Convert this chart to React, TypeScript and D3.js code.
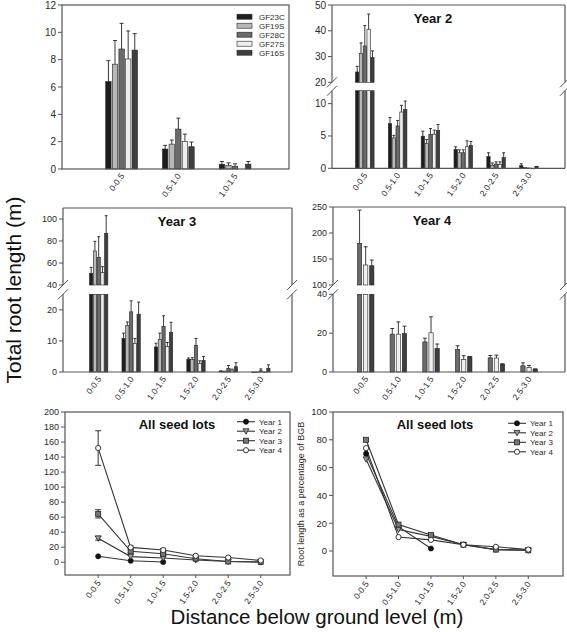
import React from "react";
import * as d3 from "d3";

const FONT = "'Liberation Sans', Arial, Helvetica, sans-serif";

// ---------- DATA ----------
const depthCats = ["0-0.5", "0.5-1.0", "1.0-1.5", "1.5-2.0", "2.0-2.5", "2.5-3.0"];
const seedLots = ["GF23C", "GF19S", "GF28C", "GF27S", "GF16S"];
const lotColors = ["#1e1e1e", "#b8b8b8", "#6b6b6b", "#efefef", "#3e3e3e"];

// Year 1 (rows: seed lots, cols: depth)
const year1Means = [
  [6.4, 1.46, 0.35],
  [7.67, 1.82, 0.25],
  [8.78, 2.92, 0.2],
  [8.05, 2.01, null],
  [8.7, 1.63, 0.35],
];
const year1SE = [
  [1.53, 0.27, 0.2],
  [1.73, 0.3, 0.2],
  [1.88, 0.8, 0.18],
  [2.05, 0.54, null],
  [1.2, 0.34, 0.2],
];

// Year 2
const year2Means = [
  [24, 6.9, 4.97, 2.92, 1.8, 0.4],
  [31.2, 4.7, 3.85, 2.4, 0.46, 0.15],
  [34.1, 6.55, 5.23, 2.4, 0.66, 0.05],
  [40.6, 8.7, 5.28, 3.33, 0.6, 0],
  [29.6, 9.08, 5.85, 3.54, 1.64, 0.25],
];
const year2SE = [
  [2.2, 0.95, 0.77, 0.41, 0.6, 0.3],
  [4.1, 0.4, 0.6, 0.45, 0.36, 0],
  [7.9, 0.85, 0.92, 0.45, 0.34, 0],
  [5.9, 1.04, 0.62, 0.92, 0.4, 0],
  [2.6, 1.32, 0.92, 0.61, 0.76, 0.05],
];

// Year 3
const year3Means = [
  [50.6, 10.8, 8.06, 4.1, 0.3, 0],
  [70.9, 15.0, 10.5, 4.0, 0.3, 0],
  [65.2, 19.35, 14.7, 8.6, 1.2, 0.4],
  [51.2, 9.2, 8.2, 2.8, 0.6, 0],
  [87, 18.6, 12.7, 3.77, 1.7, 1.2],
];
const year3SE = [
  [5.4, 1.7, 1.2, 0.4, 0.05, 0],
  [8.8, 1.1, 2.0, 0.6, 0, 0],
  [18.7, 3.55, 3.4, 2.2, 0.9, 0.6],
  [5.5, 1.6, 1.3, 0.8, 0.3, 0],
  [16, 3.9, 3.3, 1.23, 1.3, 1.1],
];

// Year 4 (only GF28C, GF27S, GF16S)
const year4Lots = ["GF28C", "GF27S", "GF16S"];
const year4Means = [
  [180, 19.5, 15.5, 11.6, 7.3, 3.2],
  [138.5, 19.5, 20.2, 6.5, 7.2, 2.4],
  [137, 19.8, 12.1, 7.8, 4.1, 1.5],
];
const year4SE = [
  [64, 2.9, 1.9, 1.9, 1.2, 1.5],
  [35, 6.3, 8.2, 1.9, 1.5, 1.0],
  [11, 3.8, 2.3, 0.2, 0.1, 0.1],
];

// All seed lots: total root length (m)
const yearNames = ["Year 1", "Year 2", "Year 3", "Year 4"];
const totalY1 = [7.9, 2.0, 0.25];
const totalY2 = [31.9, 7.5, 5.6, 2.9, 1.0, 0.2];
const totalY3 = [64.4, 14.6, 11.2, 4.7, 0.9, 0.4];
const totalY4 = [152, 19.8, 16.2, 8.6, 6.2, 2.4];
const totalErrY1 = [0.8, 0.3, 0.1];
const totalErrY2 = [2.5, 0.6, 0.5, 0.3, 0.3, 0.1];
const totalErrY3 = [5.5, 1.5, 1.2, 0.6, 0.4, 0.3];
const totalErrY4 = [23, 1.8, 2.2, 1.0, 0.8, 0.5];

// All seed lots: root length as % of BGB
const pctY1 = [70, 17.5, 1.8];
const pctY2 = [66, 15.5, 10.5, 4.5, 1.0, 0.5];
const pctY3 = [80, 19, 11.5, 4.5, 1.0, 0.5];
const pctY4 = [74, 10, 8, 4.5, 3, 1];

// ---------- COMPONENTS ----------
type BarCfg = {
  left: number; right: number; top: number; bottom: number;
  xDomain: [number, number];
  nCats: number;
  lowerDomain: [number, number]; lowerTop: number; lowerTicks: number[];
  upperDomain?: [number, number]; upperBottom?: number; upperTicks?: number[];
  tickFont: number; xFont: number; bandFrac: number; gap: number;
  titleX?: number;
};

const FRAME = "#555";
const INK = "#2a2a2a";

function BreakMarks({ x, ys }: { x: number; ys: number[] }) {
  return (
    <g>
      {ys.map((yy, i) => (
        <line key={i} x1={x - 5} y1={yy + 5} x2={x + 5} y2={yy - 5} stroke={FRAME} strokeWidth={1} />
      ))}
    </g>
  );
}

function Frame({ cfg }: { cfg: { left: number; right: number; top: number; bottom: number; upperBottom?: number; lowerTop?: number; broken?: boolean } }) {
  const { left, right, top, bottom } = cfg;
  if (!cfg.broken) {
    return <rect x={left} y={top} width={right - left} height={bottom - top} fill="none" stroke={FRAME} strokeWidth={1.2} />;
  }
  const ub = cfg.upperBottom as number;
  const lt = cfg.lowerTop as number;
  return (
    <g stroke={FRAME} strokeWidth={1.2} fill="none">
      <line x1={left} y1={top} x2={right} y2={top} />
      <line x1={left} y1={bottom} x2={right} y2={bottom} />
      <line x1={left} y1={top} x2={left} y2={ub} />
      <line x1={left} y1={lt} x2={left} y2={bottom} />
      <line x1={right} y1={top} x2={right} y2={ub} />
      <line x1={right} y1={lt} x2={right} y2={bottom} />
      <BreakMarks x={left} ys={[ub, lt]} />
      <BreakMarks x={right} ys={[ub, lt]} />
    </g>
  );
}

function BarPanel({ cfg, means, ses, colors, title, legend }: {
  cfg: BarCfg; means: (number | null)[][]; ses: (number | null)[][]; colors: string[];
  title?: string; legend?: { names: string[]; colors: string[]; x: number; y: number };
}) {
  const x = d3.scaleLinear().domain(cfg.xDomain).range([cfg.left, cfg.right]);
  const unit = x(1) - x(0);
  const band = unit * cfg.bandFrac;
  const slot = band / means.length;
  const lower = d3.scaleLinear().domain(cfg.lowerDomain).range([cfg.bottom, cfg.lowerTop]);
  const upper = cfg.upperDomain
    ? d3.scaleLinear().domain(cfg.upperDomain).range([cfg.upperBottom as number, cfg.top])
    : null;
  const lmax = cfg.lowerDomain[1];
  const y = (v: number) =>
    upper && v > lmax ? upper(Math.max(v, (cfg.upperDomain as number[])[0])) : lower(Math.min(v, lmax));
  const bw = slot - cfg.gap;
  const capW = Math.min(bw * 0.9, 4);

  const bars: any[] = [];
  const errs: any[] = [];
  means.forEach((row, li) => {
    row.forEach((m, ci) => {
      if (m == null) return;
      const bx = x(ci) - band / 2 + li * slot + cfg.gap / 2;
      const cx = bx + bw / 2;
      const key = `${li}-${ci}`;
      if (upper && m > lmax) {
        bars.push(<rect key={key + "a"} x={bx} y={cfg.lowerTop} width={bw} height={cfg.bottom - cfg.lowerTop} fill={colors[li]} stroke="#222" strokeWidth={0.6} />);
        bars.push(<rect key={key + "b"} x={bx} y={upper(m)} width={bw} height={(cfg.upperBottom as number) - upper(m)} fill={colors[li]} stroke="#222" strokeWidth={0.6} />);
      } else {
        const yy = lower(m);
        bars.push(<rect key={key} x={bx} y={yy} width={bw} height={Math.max(cfg.bottom - yy, 0.5)} fill={colors[li]} stroke="#222" strokeWidth={0.6} />);
      }
      const s = ses[li][ci];
      if (s != null && s > 0) {
        const y0 = y(m);
        const y1 = y(m + s);
        errs.push(
          <g key={key + "e"} stroke="#222" strokeWidth={0.9}>
            <line x1={cx} x2={cx} y1={y0} y2={y1} />
            <line x1={cx - capW / 2} x2={cx + capW / 2} y1={y1} y2={y1} />
          </g>
        );
      }
    });
  });

  const yTicks: { v: number; py: number }[] = [];
  cfg.lowerTicks.forEach((v) => yTicks.push({ v, py: lower(v) }));
  if (upper && cfg.upperTicks) cfg.upperTicks.forEach((v) => yTicks.push({ v, py: upper(v) }));

  return (
    <g fontFamily={FONT}>
      {bars}
      {errs}
      <Frame cfg={{ left: cfg.left, right: cfg.right, top: cfg.top, bottom: cfg.bottom, upperBottom: cfg.upperBottom, lowerTop: cfg.lowerTop, broken: !!upper }} />
      {yTicks.map((t, i) => (
        <g key={i}>
          <line x1={cfg.left - 4} x2={cfg.left} y1={t.py} y2={t.py} stroke={FRAME} strokeWidth={1} />
          <text x={cfg.left - 6} y={t.py} dy="0.35em" textAnchor="end" fontSize={cfg.tickFont} fill={INK}>{t.v}</text>
        </g>
      ))}
      {depthCats.slice(0, cfg.nCats).map((c, ci) => (
        <text key={c} transform={`translate(${x(ci) + 3},${cfg.bottom + 7}) rotate(-55)`} textAnchor="end" fontSize={cfg.xFont} fill={INK}>{c}</text>
      ))}
      {title && (
        <text x={cfg.titleX} y={cfg.top + 18} textAnchor="middle" fontSize={13} fontWeight="bold" fill="#111">{title}</text>
      )}
      {legend && legend.names.map((n, i) => (
        <g key={n}>
          <rect x={legend.x} y={legend.y + i * 9 - 2.5} width={15} height={5} fill={legend.colors[i]} stroke="#222" strokeWidth={0.6} />
          <text x={legend.x + 22} y={legend.y + i * 9} dy="0.35em" fontSize={8} fill={INK}>{n}</text>
        </g>
      ))}
    </g>
  );
}

type Marker = "filledCircle" | "triangle" | "square" | "openCircle";
const markers: Marker[] = ["filledCircle", "triangle", "square", "openCircle"];

function MarkerShape({ kind, cx, cy }: { kind: Marker; cx: number; cy: number }) {
  if (kind === "filledCircle") return <circle cx={cx} cy={cy} r={2.6} fill="#111" stroke="#111" strokeWidth={0.6} />;
  if (kind === "openCircle") return <circle cx={cx} cy={cy} r={2.6} fill="#fff" stroke="#222" strokeWidth={0.9} />;
  if (kind === "square") return <rect x={cx - 2.5} y={cy - 2.5} width={5} height={5} fill="#777" stroke="#222" strokeWidth={0.8} />;
  const s = 3;
  return <path d={`M${cx - s},${cy - s * 0.8}L${cx + s},${cy - s * 0.8}L${cx},${cy + s}Z`} fill="#999" stroke="#222" strokeWidth={0.8} />;
}

function LinePanel({ cfg, series, errors, title, ylabel, legendX, legendY }: {
  cfg: { left: number; right: number; top: number; bottom: number; xDomain: [number, number]; yDomain: [number, number]; ticks: number[]; tickFont: number; xFont: number; titleX: number };
  series: number[][]; errors?: number[][]; title: string; ylabel?: string; legendX: number; legendY: number;
}) {
  const x = d3.scaleLinear().domain(cfg.xDomain).range([cfg.left, cfg.right]);
  const y = d3.scaleLinear().domain(cfg.yDomain).range([cfg.bottom, cfg.top]);
  const line = d3.line<number>().x((_, i) => x(i)).y((v) => y(v));
  return (
    <g fontFamily={FONT}>
      <Frame cfg={{ left: cfg.left, right: cfg.right, top: cfg.top, bottom: cfg.bottom }} />
      {cfg.ticks.map((t) => (
        <g key={t}>
          <line x1={cfg.left - 4} x2={cfg.left} y1={y(t)} y2={y(t)} stroke={FRAME} strokeWidth={1} />
          <text x={cfg.left - 6} y={y(t)} dy="0.35em" textAnchor="end" fontSize={cfg.tickFont} fill={INK}>{t}</text>
        </g>
      ))}
      {depthCats.map((c, ci) => (
        <g key={c}>
          <line x1={x(ci)} x2={x(ci)} y1={cfg.bottom} y2={cfg.bottom + 3} stroke={FRAME} strokeWidth={1} />
          <text transform={`translate(${x(ci) + 3},${cfg.bottom + 8}) rotate(-55)`} textAnchor="end" fontSize={cfg.xFont} fill={INK}>{c}</text>
        </g>
      ))}
      {series.map((s, si) => (
        <path key={si} d={line(s) as string} fill="none" stroke="#333" strokeWidth={1.1} />
      ))}
      {errors && errors.map((es, si) => es.map((e, i) => {
        if (e < 1.2) return null;
        const v = series[si][i];
        return (
          <g key={`${si}-${i}`} stroke="#333" strokeWidth={1}>
            <line x1={x(i)} x2={x(i)} y1={y(v - e)} y2={y(v + e)} />
            <line x1={x(i) - 3} x2={x(i) + 3} y1={y(v - e)} y2={y(v - e)} />
            <line x1={x(i) - 3} x2={x(i) + 3} y1={y(v + e)} y2={y(v + e)} />
          </g>
        );
      }))}
      {series.map((s, si) => s.map((v, i) => <MarkerShape key={`${si}-${i}`} kind={markers[si]} cx={x(i)} cy={y(v)} />))}
      <text x={cfg.titleX} y={cfg.top + 17} textAnchor="middle" fontSize={13} fontWeight="bold" fill="#111">{title}</text>
      {yearNames.map((n, i) => (
        <g key={n}>
          <line x1={legendX} x2={legendX + 18} y1={legendY + i * 9.5} y2={legendY + i * 9.5} stroke="#333" strokeWidth={1.1} />
          <MarkerShape kind={markers[i]} cx={legendX + 9} cy={legendY + i * 9.5} />
          <text x={legendX + 22} y={legendY + i * 9.5} dy="0.35em" fontSize={8} fill={INK}>{n}</text>
        </g>
      ))}
      {ylabel && (
        <text transform={`translate(${cfg.left - 29},${(cfg.top + cfg.bottom) / 2}) rotate(-90)`} textAnchor="middle" fontSize={9} fill={INK}>{ylabel}</text>
      )}
    </g>
  );
}

export default function App() {
  const y4Colors = year4Lots.map((l) => lotColors[seedLots.indexOf(l)]);
  return (
    <svg width={567} height={632} viewBox="0 0 567 632" style={{ position: "absolute", left: 0, top: 0, background: "#fff" }}>
      <rect width={567} height={632} fill="#fff" />
      <BarPanel
        cfg={{ left: 62, right: 289, top: 5, bottom: 169, xDomain: [-1.05, 2.95], nCats: 3, lowerDomain: [0, 12], lowerTop: 5, lowerTicks: [0, 2, 4, 6, 8, 10, 12], tickFont: 10, xFont: 8.5, bandFrac: 0.58, gap: 1.2 }}
        means={year1Means} ses={year1SE} colors={lotColors}
        legend={{ names: seedLots, colors: lotColors, x: 237, y: 16.7 }}
      />
      <BarPanel
        cfg={{ left: 332, right: 565, top: 5, bottom: 168.3, xDomain: [-1.0, 6.1], nCats: 6, lowerDomain: [0, 12], lowerTop: 90.7, lowerTicks: [0, 5, 10], upperDomain: [20, 50], upperBottom: 82.3, upperTicks: [20, 30, 40, 50], tickFont: 10, xFont: 8.5, bandFrac: 0.58, gap: 0.5, titleX: 433 }}
        means={year2Means} ses={year2SE} colors={lotColors} title="Year 2"
      />
      <BarPanel
        cfg={{ left: 63, right: 292, top: 208, bottom: 372, xDomain: [-1.1, 5.96], nCats: 6, lowerDomain: [0, 25], lowerTop: 294.3, lowerTicks: [0, 10, 20], upperDomain: [40, 110], upperBottom: 285, upperTicks: [40, 60, 80, 100], tickFont: 9, xFont: 8.5, bandFrac: 0.58, gap: 0.5, titleX: 177 }}
        means={year3Means} ses={year3SE} colors={lotColors} title="Year 3"
      />
      <BarPanel
        cfg={{ left: 333, right: 565, top: 207, bottom: 372, xDomain: [-1.0, 6.1], nCats: 6, lowerDomain: [0, 40], lowerTop: 294.3, lowerTicks: [0, 20, 40], upperDomain: [100, 250], upperBottom: 285, upperTicks: [100, 150, 200, 250], tickFont: 9, xFont: 8.5, bandFrac: 0.56, gap: 1.8, titleX: 432 }}
        means={year4Means} ses={year4SE} colors={y4Colors} title="Year 4"
      />
      <LinePanel
        cfg={{ left: 65, right: 290, top: 412, bottom: 575, xDomain: [-1.02, 5.9], yDomain: [-17, 200], ticks: d3.range(0, 201, 20), tickFont: 9, xFont: 8.5, titleX: 177 }}
        series={[totalY1, totalY2, totalY3, totalY4]}
        errors={[totalErrY1, totalErrY2, totalErrY3, totalErrY4]}
        title="All seed lots" legendX={237} legendY={421.7}
      />
      <LinePanel
        cfg={{ left: 333, right: 563, top: 412, bottom: 576, xDomain: [-1.02, 6.07], yDomain: [-18, 100], ticks: d3.range(0, 101, 20), tickFont: 9.5, xFont: 8.5, titleX: 435 }}
        series={[pctY1, pctY2, pctY3, pctY4]}
        title="All seed lots" ylabel="Root length as a percentage of BGB" legendX={508} legendY={423.3}
      />
      <text transform="translate(21,290) rotate(-90)" textAnchor="middle" fontFamily={FONT} fontSize={21} fill="#111">Total root length (m)</text>
      <text x={317} y={624} textAnchor="middle" fontFamily={FONT} fontSize={20.5} fill="#111">Distance below ground level (m)</text>
    </svg>
  );
}
